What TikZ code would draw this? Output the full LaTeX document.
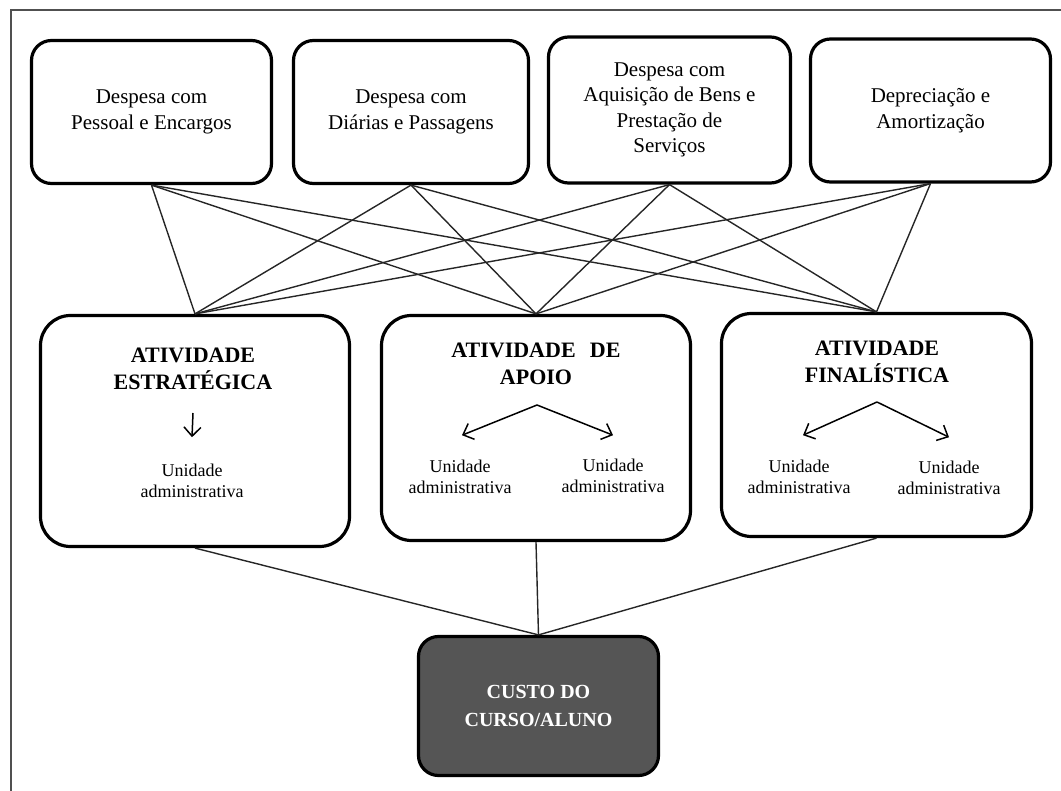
\documentclass[tikz,border=0pt]{standalone}
\usepackage{fontspec}
\setmainfont{Liberation Serif}
\usetikzlibrary{arrows.meta,positioning,calc}
\definecolor{custoGray}{RGB}{85,85,85}
\definecolor{frameGray}{RGB}{80,80,80}
\tikzset{
    costBox/.style={
        ,   draw
        ,   fill=white
        ,   rounded corners=20pt
        ,   line width=3.2pt
        ,   minimum width=240pt
        ,   minimum height=143pt
        ,   align=center
        ,   font={\fontsize{21pt}{25.5pt}\selectfont}
    },
    actBox/.style={
        ,   draw
        ,   rounded corners=30pt
        ,   line width=3.2pt
        ,   minimum width=309pt
        ,   minimum height=#1
    },
    custoBox/.style={
        ,   draw
        ,   fill=custoGray
        ,   rounded corners=20pt
        ,   line width=3.2pt
        ,   minimum width=240pt
        ,   minimum height=139pt
        ,   align=center
        ,   text=white
        ,   font={\bfseries\fontsize{20pt}{28pt}\selectfont}
    },
    titleText/.style={
        ,   inner sep=0pt
        ,   align=center
        ,   font={\bfseries\fontsize{22pt}{27.5pt}\selectfont}
    },
    unitText/.style={
        ,   inner sep=0pt
        ,   align=center
        ,   font={\fontsize{18pt}{20.5pt}\selectfont}
    },
    link/.style={line width=1.4pt, draw=black!85},
    subArrow/.style={line width=1.5pt, -{Straight Barb[length=9pt,width=17pt]}},
    frameLine/.style={line width=1.8pt, draw=frameGray}
}

\begin{document}
\begin{tikzpicture}[x=1pt, y=-1pt]
\useasboundingbox (0,0) rectangle (1061,791);
\draw[frameLine] (11,791) -- (11,10) -- (1061,10);

% despesas
\node[costBox] (d1) at (151.5,112) {Despesa com\\Pessoal e Encargos};
\node[costBox, minimum width=235pt] (d2) at (411,112) {Despesa com\\Diárias e Passagens};
\node[costBox, minimum width=242pt, minimum height=146pt] (d3) at (669.5,110) {Despesa com\\Aquisição de Bens e\\Prestação de\\Serviços};
\node[costBox] (d4) at (930.5,110.5) {Depreciação e\\Amortização};

% atividades
\node[actBox=231pt] (a1) at (195,431) {};
\node[actBox=225pt] (a2) at (536,428) {};
\node[actBox=223pt, minimum width=310pt] (a3) at (876.5,425) {};

\node[titleText] (t1) at (193,369) {ATIVIDADE\\ESTRATÉGICA};
\node[titleText] (t2) at (536,364) {ATIVIDADE\hspace{0.4em} DE\\APOIO};
\node[titleText] (t3) at (877,362) {ATIVIDADE\\FINALÍSTICA};

\node[unitText] (u1) at (192,481) {Unidade\\administrativa};
\node[unitText] (u21) at (460,477) {Unidade\\administrativa};
\node[unitText] (u22) at (613,476) {Unidade\\administrativa};
\node[unitText] (u31) at (799,477) {Unidade\\administrativa};
\node[unitText] (u32) at (949,478) {Unidade\\administrativa};

\coordinate (ap1) at (193,413);
\coordinate (ap2) at (537,405);
\coordinate (ap3) at (877,402);
\draw[subArrow] (ap1) -- ([yshift=27pt]u1.north);
\draw[subArrow] (ap2) -- ([xshift=2pt,yshift=25pt]u21.north);
\draw[subArrow] (ap2) -- ([yshift=24pt]u22.north);
\draw[subArrow] (ap3) -- ([xshift=4pt,yshift=25pt]u31.north);
\draw[subArrow] (ap3) -- ([yshift=24pt]u32.north);

% custo
\node[custoBox] (custo) at (538.5,706) {CUSTO DO\\CURSO/ALUNO};

\foreach \i in {1,...,4}{
  \foreach \j in {1,2,3}{
    \draw[link] (d\i.south) -- (a\j.north);
  }
}
\foreach \j in {1,2,3}
  \draw[link] (a\j.south) -- (custo.north);
\end{tikzpicture}
\end{document}
